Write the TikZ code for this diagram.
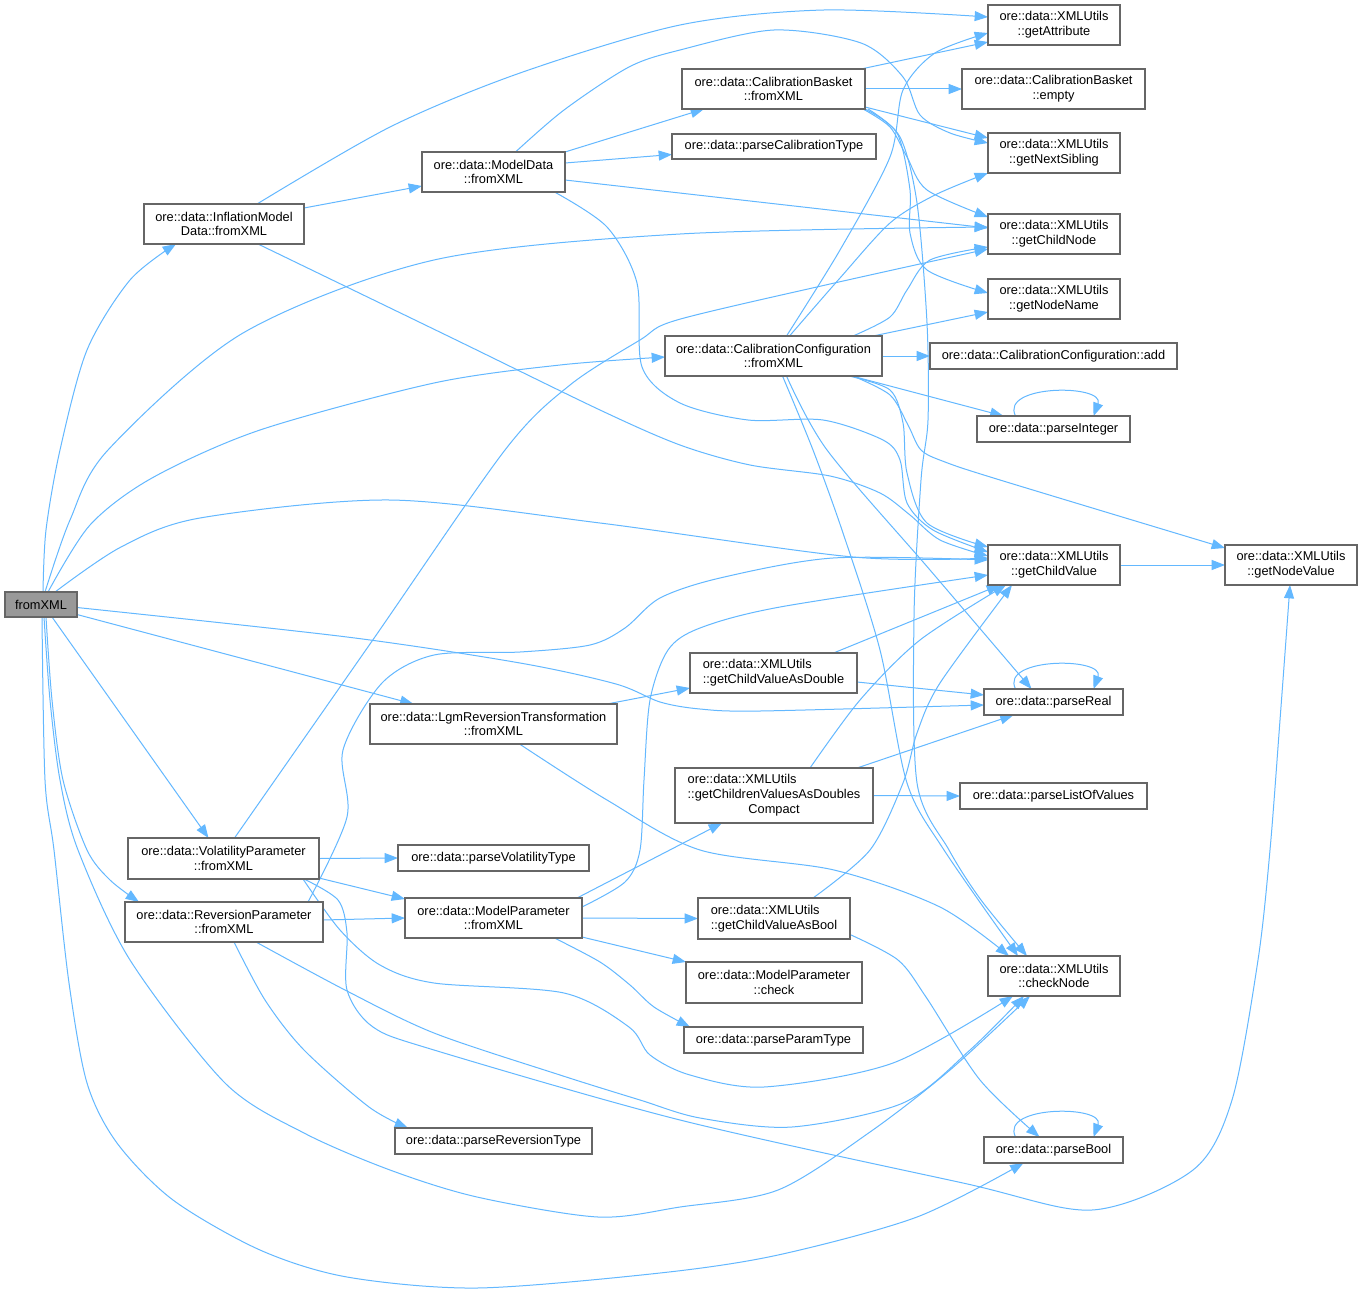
\documentclass[tikz,border=0pt]{standalone}
\usepackage{fontspec}
\setmainfont{Liberation Sans}
\usetikzlibrary{arrows.meta,calc}
\definecolor{edgeblue}{RGB}{99,184,255}
\definecolor{boxgray}{RGB}{102,102,102}
\definecolor{rootfill}{RGB}{153,153,153}
\pgfdeclarelayer{bg}
\pgfsetlayers{bg,main}
\newcommand\dgfont{\fontsize{9.6}{11}\selectfont}
\newcommand\nd[7][]{\node[dgbox,#1,minimum width={(#5-#3)*0.75pt},minimum height={(#6-#4)*0.75pt}] (#2) at ({(#3+#5)/2},{(#4+#6)/2}) {#7};}
\tikzset{
  dgbox/.style={draw=boxgray, fill=white, line width=1pt, inner sep=0pt, outer sep=0pt, font=\dgfont, align=center},
  edge/.style={draw=edgeblue, line width=0.75pt, -{Triangle[length=10pt,width=7.5pt]}},
  sm/.style={smooth, tension=0.5}
}
\begin{document}
\begin{tikzpicture}[x=0.75pt,y=-0.75pt]
\useasboundingbox (0,0) rectangle (1363,1295);
% nodes
\nd[fill=rootfill]{root}{5}{592}{77}{617}{fromXML}
\nd{imd}{144}{204}{304}{244}{ore::data::InflationModel\\Data::fromXML}
\nd{md}{422}{152}{565}{192}{ore::data::ModelData\\::fromXML}
\nd{cb}{682}{69}{865}{109}{ore::data::CalibrationBasket\\::fromXML}
\nd{pct}{672}{134}{876}{159}{ore::data::parseCalibrationType}
\nd{cc}{665}{336}{882}{376}{ore::data::CalibrationConfiguration\\::fromXML}
\nd{ga}{988}{5}{1120}{45}{ore::data::XMLUtils\\::getAttribute}
\nd{cbe}{962}{69}{1145}{109}{ore::data::CalibrationBasket\\::empty}
\nd{gns}{988}{133}{1120}{173}{ore::data::XMLUtils\\::getNextSibling}
\nd{gcn}{988}{214}{1120}{254}{ore::data::XMLUtils\\::getChildNode}
\nd{gnn}{988}{279}{1120}{319}{ore::data::XMLUtils\\::getNodeName}
\nd{add}{930}{343}{1177}{369}{ore::data::CalibrationConfiguration::add}
\nd{pi}{977}{416}{1130}{442}{ore::data::parseInteger}
\nd{gcv}{988}{545}{1120}{585}{ore::data::XMLUtils\\::getChildValue}
\nd{gnv}{1225}{545}{1357}{585}{ore::data::XMLUtils\\::getNodeValue}
\nd[align=left]{gcvd}{690}{653}{857}{693}{ore::data::XMLUtils\\::getChildValueAsDouble}
\nd{pr}{984}{689}{1123}{715}{ore::data::parseReal}
\nd{gcvdc}{675}{768}{873}{823}{\begin{tabular}{@{}l@{}}ore::data::XMLUtils\\::getChildrenValuesAsDoubles\\\multicolumn{1}{@{}c@{}}{Compact}\end{tabular}}
\nd{plv}{960}{783}{1147}{809}{ore::data::parseListOfValues}
\nd{lrt}{370}{704}{617}{744}{ore::data::LgmReversionTransformation\\::fromXML}
\nd{vp}{128}{838}{319}{879}{ore::data::VolatilityParameter\\::fromXML}
\nd{pvt}{398}{845}{589}{871}{ore::data::parseVolatilityType}
\nd{rp}{125}{902}{323}{942}{ore::data::ReversionParameter\\::fromXML}
\nd{mp}{405}{898}{582}{938}{ore::data::ModelParameter\\::fromXML}
\nd{prt}{395}{1128}{592}{1154}{ore::data::parseReversionType}
\nd[align=left]{gcvb}{698}{898}{850}{939}{ore::data::XMLUtils\\::getChildValueAsBool}
\nd{mpc}{686}{962}{862}{1003}{ore::data::ModelParameter\\::check}
\nd{ppt}{684}{1027}{863}{1053}{ore::data::parseParamType}
\nd{cn}{988}{956}{1120}{996}{ore::data::XMLUtils\\::checkNode}
\nd{pb}{984}{1137}{1123}{1163}{ore::data::parseBool}

\begin{pgfonlayer}{bg}
\fill[white] (0,0) rectangle (1363,1295);
% root
\draw[edge] plot[sm] coordinates {($(root.north)+(2,0)$) (46,530) (60,450) (87,350) (130,280) ($(imd.south)+(-48,0)$)};
\draw[edge] plot[sm] coordinates {($(root.north)+(4,0)$) (70,520) (108,450) (243,333) (434,260) (680,234) ($(gcn.west)+(0,-7)$)};
\draw[edge] plot[sm] coordinates {($(root.north)+(7,0)$) (90,525) (152,478) (260,430) (434,383) (560,365) ($(cc.west)+(0,1)$)};
\draw[edge] plot[sm] coordinates {($(root.north)+(14,0)$) (121,547) (200,518) (390,500) (600,523) (853,557) ($(gcv.west)+(0,-7)$)};
\draw[edge] ($(root.east)+(0,10)$) -- ($(lrt.north)+(-80,0)$);
\draw[edge] plot[sm] coordinates {($(root.east)+(0,3)$) (347,637) (520,663) (616,684) (660,702) (700,709) (760,711) ($(pr.west)+(0,3)$)};
\draw[edge] ($(root.south)+(11,0)$) -- ($(vp.north)+(-15,0)$);
\draw[edge] plot[sm] coordinates {($(root.south)+(5,0)$) (52,700) (63,780) (87,850) (110,880) ($(rp.north)+(-85,0)$)};
\draw[edge] plot[sm] coordinates {($(root.south)+(3,0)$) (50,700) (60,780) (78,850) (130,960) (225,1083) (304,1133) (390,1170) (477,1197) (598,1217) (680,1207) (778,1190) (870,1132) (950,1070) ($(cn.south)+(-24,0)$)};
\draw[edge] plot[sm] coordinates {($(root.south)+(1,0)$) (45,780) (54,850) (69,983) (87,1083) (117,1143) (173,1200) (260,1250) (347,1277) (477,1288) (660,1273) (778,1255) (917,1217) ($(pb.south)+(-30,0)$)};
% imd
\draw[edge] ($(imd.north east)+(0,4)$) -- ($(md.west)+(0,14)$);
\draw[edge] plot[sm] coordinates {($(imd.north)+(33,0)$) (390,127) (520,73) (680,25) (824,10) ($(ga.west)+(0,-8)$)};
\draw[edge] plot[sm] coordinates {($(imd.south)+(34,0)$) (450,337) (600,410) (680,445) (750,465) (830,476) (880,493) (910,515) (940,540) ($(gcv.west)+(0,-9)$)};
% md
\draw[edge] (md.north east) -- ($(cb.south west)+(22,0)$);
\draw[edge] ($(md.east)+(0,-9)$) -- ($(pct.west)+(0,8)$);
\draw[edge] ($(md.east)+(0,8)$) -- ($(gcn.west)+(0,-6)$);
\draw[edge] plot[sm] coordinates {($(md.north)+(22,0)$) (564,110) (629,67) (680,50) (774,30) (861,43) (903,77) (920,115) (950,133) ($(gns.west)+(0,-10)$)};
\draw[edge] plot[sm] coordinates {($(md.south)+(61,0)$) (607,227) (637,283) (642,367) (680,403) (748,420) (823,420) (883,440) (900,460) (907,503) (933,530) ($(gcv.west)+(0,-13)$)};
% cb
\draw[edge] ($(cb.north east)+(-4,0)$) -- ($(ga.west)+(0,17)$);
\draw[edge] (cb.east) -- (cbe.west);
\draw[edge] ($(cb.south east)+(0,-2)$) -- ($(gns.west)+(0,-15)$);
\draw[edge] plot[sm] coordinates {($(cb.south east)+(-2,0)$) (890,127) (907,157) (927,190) ($(gcn.west)+(0,-17)$)};
\draw[edge] plot[sm] coordinates {(cb.south east) (897,133) (910,190) (910,233) (927,270) ($(gnn.west)+(0,-6)$)};
\draw[edge] plot[sm] coordinates {($(cb.south east)+(3,0)$) (900,137) (917,203) (927,323) (928,420) (921,480) (914,617) (917,783) (949,850) (981,900) ($(cn.north)+(-27,0)$)};
% cc
\draw[edge] plot[sm] coordinates {($(cc.north)+(13,0)$) (840,250) (890,157) (903,90) (935,53) ($(ga.west)+(0,8)$)};
\draw[edge] plot[sm] coordinates {($(cc.north)+(16,0)$) (840,278) (890,223) (935,195) (gns.south west)};
\draw[edge] plot[sm] coordinates {($(cc.north east)+(-29,0)$) (890,317) (907,290) (930,260) ($(gcn.west)+(0,13)$)};
\draw[edge] ($(cc.north east)+(-9,0)$) -- ($(gnn.west)+(0,13)$);
\draw[edge] (cc.east) -- (add.west);
\draw[edge] ($(cc.south east)+(-30,0)$) -- ($(pi.north)+(-50,0)$);
\draw[edge] plot[sm] coordinates {($(cc.south east)+(-29,0)$) (890,395) (908,425) (921,450) (945,462) (1000,480) ($(gnv.west)+(0,-17)$)};
\draw[edge] plot[sm] coordinates {($(cc.south east)+(-33,0)$) (890,390) (903,423) (907,473) (927,523) ($(gcv.north west)+(0,2)$)};
\draw[edge] plot[sm] coordinates {($(cc.south)+(9,0)$) (813,450) (843,533) (880,650) (907,783) (944,850) ($(cn.north)+(-36,0)$)};
\draw[edge] plot[sm] coordinates {($(cc.south)+(13,0)$) (827,450) (930,570) ($(pr.north)+(-22,0)$)};
% lrt
\draw[edge] ($(lrt.north east)+(-10,0)$) -- ($(gcvd.west)+(0,15)$);
\draw[edge] plot[sm] coordinates {($(lrt.south)+(26,0)$) (607,800) (700,850) (834,870) (940,907) ($(cn.north)+(-45,0)$)};
% vp
\draw[edge] (vp.east) -- (pvt.west);
\draw[edge] ($(vp.south east)+(0,-1)$) -- ($(mp.north west)+(0,1)$);
\draw[edge] plot[sm] coordinates {($(vp.north)+(11,0)$) (370,644) (505,450) (570,385) (640,340) (677,320) (830,284) ($(gcn.west)+(0,15)$)};
\draw[edge] plot[sm] coordinates {($(vp.south east)+(-16,0)$) (340,930) (380,965) (434,983) (564,993) (629,1027) (650,1055) (690,1075) (764,1087) (893,1063) ($(cn.south)+(-41,0)$)};
\draw[edge] plot[sm] coordinates {($(vp.south east)+(-15,0)$) (338,900) (347,933) (347,990) (373,1027) (434,1050) (680,1120) (963,1183) (1092,1210) (1193,1170) (1232,1100) (1258,960) (1270,850) (1280,720) ($(gnv.south)+(-1,0)$)};
% rp
\draw[edge] ($(rp.east)+(0,-2)$) -- (mp.west);
\draw[edge] plot[sm] coordinates {($(rp.south)+(10,0)$) (265,1000) (304,1050) (369,1107) ($(prt.north west)+(13,0)$)};
\draw[edge] plot[sm] coordinates {($(rp.south)+(32,0)$) (345,990) (434,1033) (560,1075) (640,1100) (700,1118) (792,1127) (903,1103) (970,1050) ($(cn.south)+(-30,0)$)};
\draw[edge] plot[sm] coordinates {($(rp.north east)+(-15,0)$) (347,817) (343,750) (382,683) (434,655) (520,652) (590,645) (625,628) (660,598) (720,578) (833,558) ($(gcv.west)+(0,-5)$)};
% mp
\draw[edge] plot[sm] coordinates {($(mp.east)+(0,-11)$) (625,882) (640,850) (644,780) (650,700) (668,650) (700,628) (780,607) ($(gcv.west)+(0,10)$)};
\draw[edge] ($(mp.north east)+(-5,0)$) -- ($(gcvdc.south)+(-52,0)$);
\draw[edge] (mp.east) -- (gcvb.west);
\draw[edge] ($(mp.south east)+(0,-1)$) -- (mpc.north west);
\draw[edge] plot[sm] coordinates {($(mp.south)+(61,0)$) (600,962) (630,985) (654,1007) ($(ppt.north west)+(6,0)$)};
% gcvd, gcvdc, gcvb
\draw[edge] ($(gcvd.north)+(60,0)$) -- ($(gcv.south west)+(12,0)$);
\draw[edge] ($(gcvd.east)+(0,9)$) -- ($(pr.west)+(0,-7)$);
\draw[edge] plot[sm] coordinates {($(gcvdc.north)+(36,0)$) (860,700) (920,640) ($(gcv.south west)+(18,0)$)};
\draw[edge] ($(gcvdc.north east)+(-16,0)$) -- ($(pr.south)+(-40,0)$);
\draw[edge] (gcvdc.east) -- (plv.west);
\draw[edge] plot[sm] coordinates {($(gcvb.north)+(39,0)$) (870,850) (903,783) (917,733) (940,683) ($(gcv.south west)+(24,0)$)};
\draw[edge] plot[sm] coordinates {($(gcvb.east)+(0,16)$) (898,960) (926,997) (980,1080) ($(pb.north)+(-14,0)$)};
% gcv
\draw[edge] (gcv.east) -- (gnv.west);
% self loops
\draw[edge] ($(pi.north)+(-38,0)$) .. controls +(-16,-32) and +(12,-32) .. ($(pi.north)+(40,0)$);
\draw[edge] ($(pr.north)+(-38,0)$) .. controls +(-16,-32) and +(12,-32) .. ($(pr.north)+(40,0)$);
\draw[edge] ($(pb.north)+(-38,0)$) .. controls +(-16,-32) and +(12,-32) .. ($(pb.north)+(40,0)$);
\end{pgfonlayer}
\end{tikzpicture}
\end{document}
